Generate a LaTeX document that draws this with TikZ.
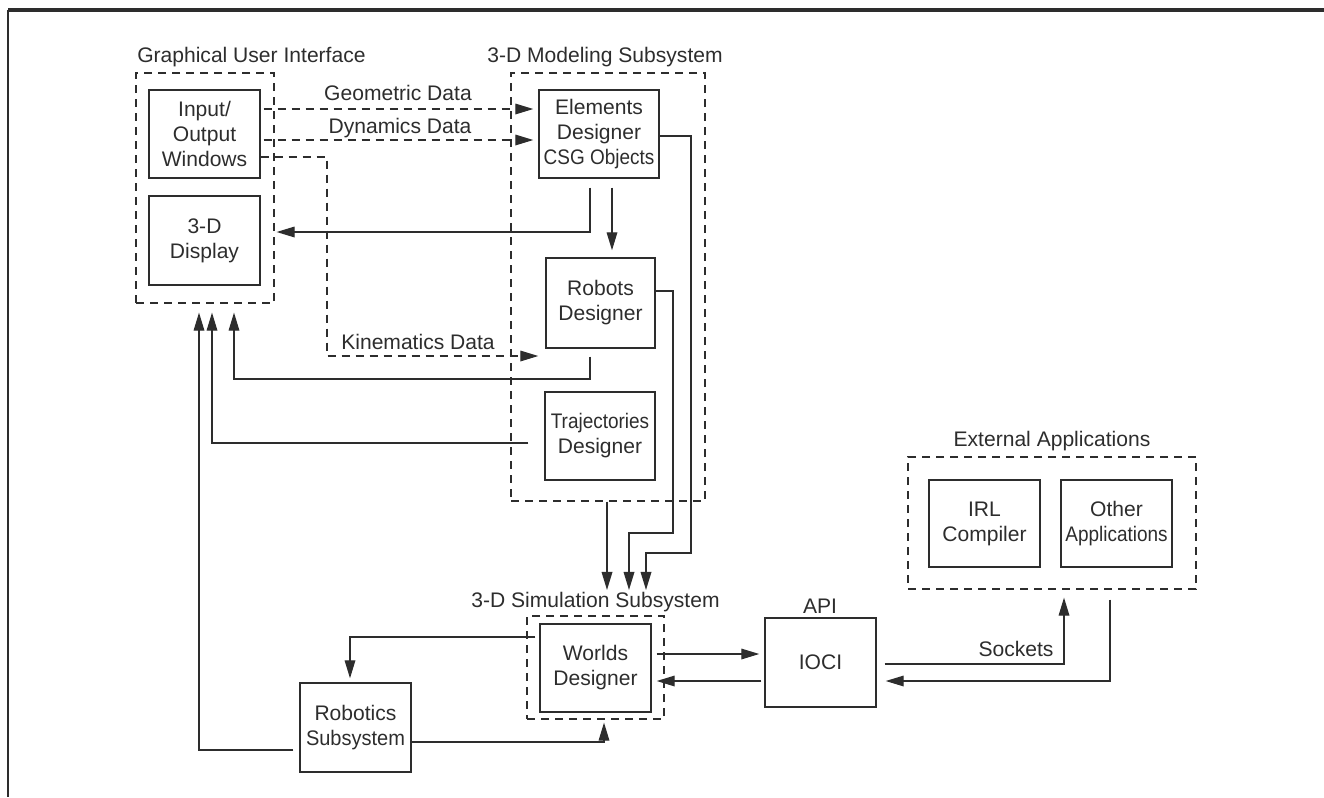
\documentclass[tikz,border=0pt]{standalone}
\usepackage{fontspec}
\setmainfont{Liberation Sans}
\usetikzlibrary{arrows.meta}

\definecolor{ink}{RGB}{45,45,45}
\newcommand{\narrow}[1]{\scalebox{0.9}[1]{#1}}

\tikzset{
  box/.style={draw=ink, line width=1.1pt, inner sep=0pt, minimum width=83.25pt, minimum height=66pt,
    align=center, text=ink, font=\fontsize{15.8pt}{18.75pt}\selectfont},
  group/.style={draw=ink, line width=0.9pt, dash pattern=on 6pt off 4.5pt, inner sep=0pt},
  lbl/.style={anchor=base, inner sep=0pt, text=ink, font=\fontsize{15.8pt}{18.75pt}\selectfont},
  flow/.style={draw=ink, line width=0.9pt, -{Triangle[length=13.5pt,width=8pt]}},
  data/.style={flow, dash pattern=on 6pt off 4.5pt},
}

\begin{document}
\begin{tikzpicture}[x=0.75pt,y=0.75pt,yscale=-1,xscale=1]
\useasboundingbox (0,0) rectangle (1324,797);

%Frame
\draw [ink, line width=2.6pt] (8,10) -- (1324,10) ;
\draw [ink, line width=1.1pt] (8,10) -- (8,797) ;

%Groups
\node [group, minimum width=103.5pt, minimum height=172.5pt] (gui) at (205,188) {};
\node [group, minimum width=145.5pt, minimum height=321pt] (model) at (608,287) {};
\node [group, minimum width=102.75pt, minimum height=77.25pt] (sim) at (595.5,667.5) {};
\node [group, minimum width=216pt, minimum height=99pt] (ext) at (1052,523) {};

%Boxes
\node [box] (io) at (204.5,134) {Input/\\Output\\Windows};
\node [box, minimum height=66.75pt] (disp) at (204.5,240.5) {3-D\\Display};
\node [box, minimum width=90pt] (elem) at (599,134) {Elements\\Designer\\\narrow{CSG Objects}};
\node [box, minimum width=81.75pt, minimum height=67.5pt] (robots) at (600.5,303) {Robots\\Designer};
\node [box, minimum width=82.5pt] (traj) at (600,436) {\narrow{Trajectories}\\Designer};
\node [box] (worlds) at (595.5,668) {Worlds\\Designer};
\node [box, minimum height=66.75pt] (robotics) at (355.5,727.5) {Robotics\\\scalebox{0.95}[1]{Subsystem}};
\node [box, minimum height=66.75pt] (ioci) at (820.5,662.5) {IOCI};
\node [box, minimum height=65.25pt] (irl) at (984.5,523.5) {IRL\\Compiler};
\node [box, minimum height=65.25pt] (other) at (1116.5,523.5) {Other\\\narrow{Applications}};

% Text Node
\node [lbl, anchor=base west] (guilbl) at (137,62.5) {Graphical User Interface};
% Text Node
\node [lbl] (modlbl) at (605,62.5) {3-D Modeling Subsystem};
% Text Node
\node [lbl] (simlbl) at (595.5,607.5) {3-D Simulation Subsystem};
% Text Node
\node [lbl] (extlbl) at (1052,446.5) {External Applications};
% Text Node
\node [lbl] (apilbl) at (820,613.5) {API};
% Text Node
\node [lbl] (geolbl) at (398,100.5) {Geometric Data};
% Text Node
\node [lbl] (dynlbl) at (400,133.5) {Dynamics Data};
% Text Node
\node [lbl] (kinlbl) at (418,349.5) {Kinematics Data};
% Text Node
\node [lbl] (socklbl) at (1016,656.5) {Sockets};

%Dashed Lines
\draw [data, shorten <=2.25pt, shorten >=3.75pt] (io.east |- 0,109) -- (elem.west |- 0,109) ;
\draw [data, shorten <=2.25pt, shorten >=3.75pt] (io.east |- 0,140) -- (elem.west |- 0,140) ;
\draw [data, shorten >=5.25pt] (io.east |- 0,157) -| (327,356) -- (robots.west |- 0,356) ;

%Straight Lines
\draw [flow, shorten <=6.75pt, shorten >=1.5pt] (elem.south -| 590,0) |- (gui.east |- 0,232) ;
\draw [flow, shorten <=6.75pt, shorten >=5.25pt] (elem.south -| 612,0) -- (robots.north -| 612,0) ;
\draw [flow, shorten <=6pt, shorten >=6.75pt] (robots.south -| 590,0) |- (234,379) -- (gui.south -| 234,0) ;
\draw [flow, shorten <=12pt, shorten >=6.75pt] (traj.west |- 0,443) -| (gui.south -| 212,0) ;
\draw [flow, shorten <=4.5pt, shorten >=6.75pt] (robotics.west |- 0,750) -| (gui.south -| 199,0) ;
\draw [flow, shorten >=1.5pt] (elem.east |- 0,136) -| (691,553) -| (simlbl.north -| 646,0) ;
\draw [flow, shorten >=1.5pt] (robots.east |- 0,291) -| (673,533) -| (simlbl.north -| 629,0) ;
\draw [flow, shorten >=1.5pt] (model.south -| 607,0) -- (simlbl.north -| 607,0) ;
\draw [flow, shorten <=3pt, shorten >=3pt] (worlds.west |- 0,637) -| (robotics.north -| 350,0) ;
\draw [flow, shorten >=2.25pt] (robotics.east |- 0,742) -| (sim.south -| 604,0) ;
\draw [flow, shorten <=3.75pt, shorten >=3.75pt] (worlds.east |- 0,654) -- (ioci.west |- 0,654) ;
\draw [flow, shorten <=2.25pt, shorten >=3.75pt] (ioci.west |- 0,681) -- (worlds.east |- 0,681) ;
\draw [flow, shorten <=6pt, shorten >=6pt] (ioci.east |- 0,664) -| (ext.south -| 1064,0) ;
\draw [flow, shorten <=7.5pt, shorten >=6.75pt] (ext.south -| 1110,0) |- (ioci.east |- 0,681) ;

\end{tikzpicture}
\end{document}
